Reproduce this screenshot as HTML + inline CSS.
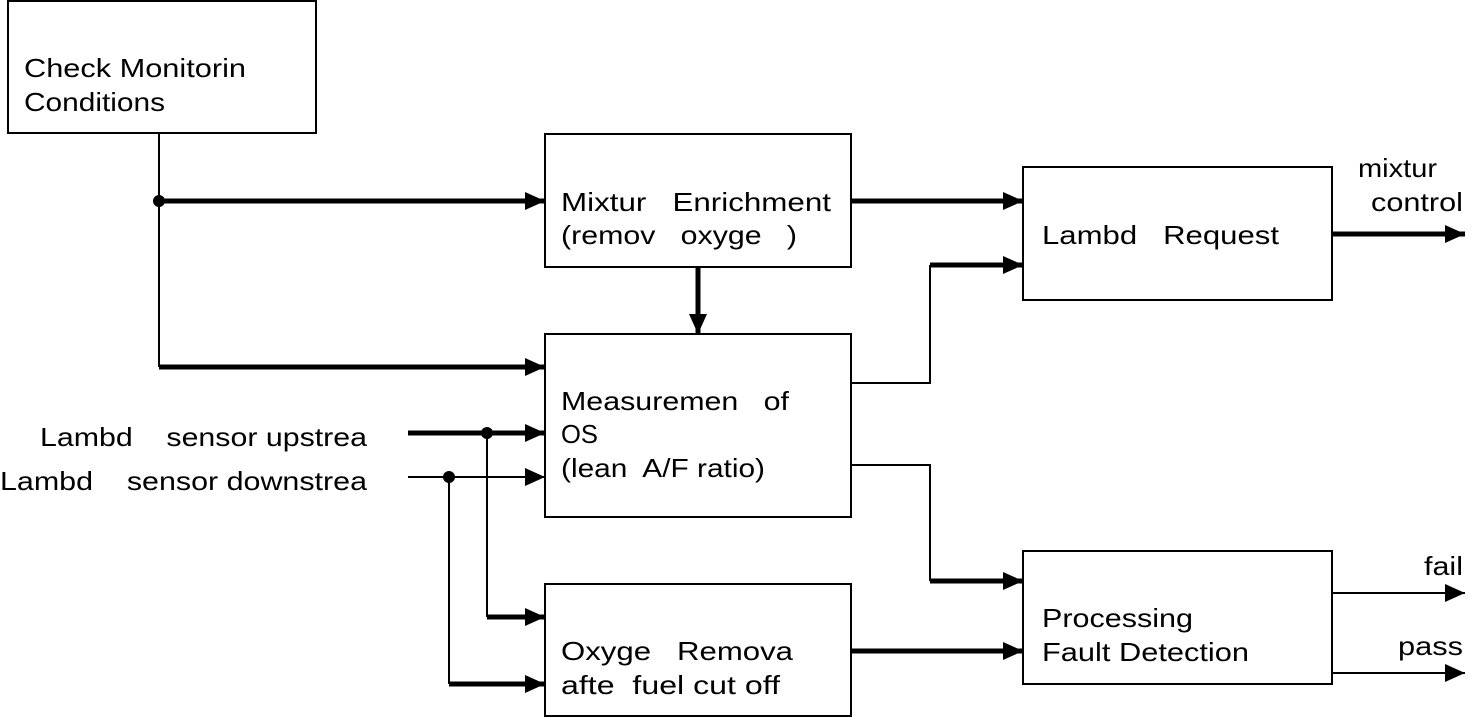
<!DOCTYPE html>
<html><head><style>body{margin:0;background:#fff}svg{display:block}text{font-family:"Liberation Sans",sans-serif;font-size:26px;fill:#000;white-space:pre}</style></head><body>
<svg width="1472" height="718" viewBox="0 0 1472 718" xmlns="http://www.w3.org/2000/svg" xml:space="preserve">
<defs><marker id="a" markerUnits="userSpaceOnUse" markerWidth="20" markerHeight="18" refX="20" refY="9" orient="auto"><path d="M0,0 L20,9 L0,18 Z" fill="#000"/></marker></defs>
<g fill="none" stroke="#000" stroke-width="2">
<rect x="8" y="1" width="308" height="132"/>
<rect x="545" y="134" width="306" height="133"/>
<rect x="545" y="334" width="306" height="183"/>
<rect x="545" y="584" width="306" height="132"/>
<rect x="1023" y="167" width="309" height="133"/>
<rect x="1023" y="551" width="309" height="133"/>
<path d="M159,133 V367"/>
<path d="M851,383 H930 V265"/>
<path d="M851,465 H930 V581"/>
<path d="M487,433 V617"/>
<path d="M449,477 V684"/>
<path d="M408,477 H545" marker-end="url(#a)"/>
<path d="M1332,593 H1465" marker-end="url(#a)"/>
<path d="M1332,673 H1465" marker-end="url(#a)"/>
</g>
<g fill="none" stroke="#000" stroke-width="5">
<path d="M159,201 H545" marker-end="url(#a)"/>
<path d="M159,367 H545" marker-end="url(#a)"/>
<path d="M698,267 V334" marker-end="url(#a)"/>
<path d="M851,201 H1023" marker-end="url(#a)"/>
<path d="M930,265 H1023" marker-end="url(#a)"/>
<path d="M930,581 H1023" marker-end="url(#a)"/>
<path d="M851,651 H1023" marker-end="url(#a)"/>
<path d="M1332,234 H1465" marker-end="url(#a)"/>
<path d="M408,433 H545" marker-end="url(#a)"/>
<path d="M487,617 H545" marker-end="url(#a)"/>
<path d="M449,684 H545" marker-end="url(#a)"/>
</g>
<g fill="#000"><circle cx="159" cy="201" r="6"/><circle cx="487" cy="433" r="6"/><circle cx="449" cy="477" r="6"/></g>
<text x="24" y="77" textLength="222" lengthAdjust="spacingAndGlyphs">Check Monitorin</text>
<text x="24" y="111" textLength="141" lengthAdjust="spacingAndGlyphs">Conditions</text>
<text x="561" y="211" textLength="270" lengthAdjust="spacingAndGlyphs">Mixtur   Enrichment</text>
<text x="561" y="244" textLength="236" lengthAdjust="spacingAndGlyphs">(remov   oxyge   )</text>
<text x="561" y="410" textLength="228" lengthAdjust="spacingAndGlyphs">Measuremen   of</text>
<text x="561" y="443" textLength="37" lengthAdjust="spacingAndGlyphs">OS</text>
<text x="561" y="477" textLength="204" lengthAdjust="spacingAndGlyphs">(lean  A/F ratio)</text>
<text x="561" y="660" textLength="232" lengthAdjust="spacingAndGlyphs">Oxyge   Remova</text>
<text x="561" y="694" textLength="219" lengthAdjust="spacingAndGlyphs">afte  fuel cut off</text>
<text x="1042" y="244" textLength="237" lengthAdjust="spacingAndGlyphs">Lambd   Request</text>
<text x="1042" y="627" textLength="151" lengthAdjust="spacingAndGlyphs">Processing</text>
<text x="1042" y="661" textLength="207" lengthAdjust="spacingAndGlyphs">Fault Detection</text>
<text x="1358" y="177" textLength="79" lengthAdjust="spacingAndGlyphs">mixtur</text>
<text x="1371" y="211" textLength="92" lengthAdjust="spacingAndGlyphs">control</text>
<text x="1424" y="575" textLength="39" lengthAdjust="spacingAndGlyphs">fail</text>
<text x="1398" y="655" textLength="65" lengthAdjust="spacingAndGlyphs">pass</text>
<text x="40" y="446" textLength="327" lengthAdjust="spacingAndGlyphs">Lambd    sensor upstrea</text>
<text x="0" y="490" textLength="367" lengthAdjust="spacingAndGlyphs">Lambd    sensor downstrea</text>
</svg>
</body></html>
